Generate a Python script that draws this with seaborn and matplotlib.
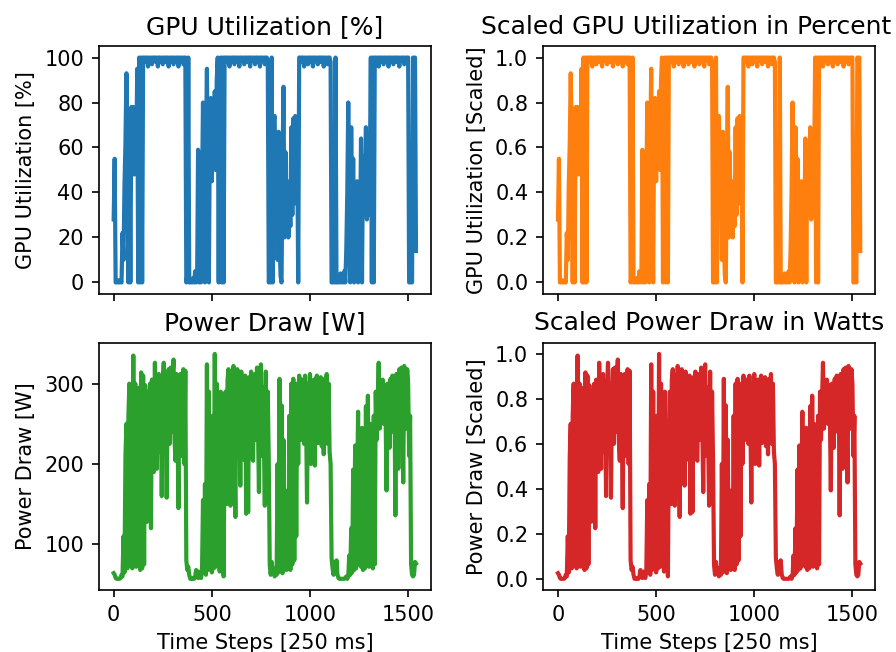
import numpy as np
import pandas as pd
import matplotlib
matplotlib.use("Agg")
import matplotlib.pyplot as plt
import seaborn as sns

gpu_util = [
    28, 55, 0, 0, 1, 0, 0, 1, 0, 22,
    10, 43, 62, 93, 65, 0, 70, 0, 78, 60,
    78, 48, 72, 55, 95, 0, 100, 0, 100, 0,
    100, 100, 98, 100, 100, 96, 100, 99, 100, 97,
    100, 100, 100, 98, 100, 96, 100, 100, 99, 100,
    97, 100, 100, 98, 100, 100, 96, 100, 99, 100,
    100, 97, 100, 98, 100, 100, 96, 100, 100, 99,
    100, 97, 100, 100, 0, 3, 100, 0, 0, 1,
    0, 2, 0, 5, 0, 1, 59, 0, 5, 0,
    40, 80, 20, 0, 60, 95, 35, 0, 70, 82,
    45, 75, 55, 85, 50, 90, 100, 0, 97, 100,
    0, 100, 0, 100, 100, 98, 100, 100, 96, 100,
    99, 100, 100, 97, 100, 100, 98, 100, 96, 100,
    100, 99, 100, 97, 100, 100, 98, 100, 100, 96,
    100, 100, 99, 100, 97, 100, 100, 98, 100, 96,
    100, 100, 99, 100, 97, 100, 100, 98, 0, 2,
    0, 100, 0, 72, 74, 30, 66, 10, 67, 20,
    3, 0, 50, 87, 20, 58, 25, 45, 20, 40,
    25, 69, 30, 73, 35, 74, 45, 60, 0, 100,
    100, 98, 100, 100, 96, 100, 99, 100, 97, 100,
    100, 98, 100, 96, 100, 100, 99, 100, 97, 100,
    100, 98, 100, 100, 96, 100, 99, 100, 97, 100,
    100, 98, 0, 0, 2, 0, 100, 0, 0, 3,
    0, 4, 0, 2, 0, 5, 0, 15, 40, 80,
    30, 0, 69, 10, 55, 0, 31, 5, 45, 0,
    42, 20, 64, 0, 56, 30, 45, 69, 28, 58,
    30, 52, 100, 0, 100, 0, 100, 100, 98, 100,
    96, 100, 100, 99, 100, 97, 100, 100, 98, 100,
    96, 100, 100, 99, 100, 97, 100, 100, 98, 100,
    100, 96, 100, 99, 100, 100, 97, 100, 98, 100,
    100, 0, 0, 2, 0, 100, 98, 100, 14,
]

power_draw = [
    64, 62, 58, 57, 57, 57, 57, 58, 62, 60,
    110, 65, 210, 250, 70, 260, 300, 75, 295, 70,
    335, 80, 300, 72, 290, 75, 295, 68, 314, 70,
    310, 75, 298, 200, 128, 290, 210, 300, 120, 305,
    220, 190, 326, 230, 194, 300, 312, 215, 285, 160,
    295, 326, 220, 300, 158, 280, 318, 225, 320, 240,
    310, 330, 230, 204, 312, 250, 145, 300, 312, 210,
    295, 318, 200, 316, 80, 68, 72, 62, 57, 57,
    58, 57, 57, 60, 68, 64, 58, 66, 62, 58,
    66, 155, 70, 175, 62, 324, 68, 290, 75, 250,
    65, 260, 70, 337, 72, 300, 80, 280, 66, 290,
    70, 240, 60, 230, 290, 150, 305, 318, 220, 148,
    310, 260, 322, 215, 134, 300, 318, 210, 290, 173,
    315, 240, 300, 205, 310, 138, 295, 140, 308, 225,
    315, 208, 204, 300, 312, 230, 320, 250, 165, 305,
    324, 210, 296, 230, 148, 315, 152, 290, 205, 74,
    62, 78, 64, 70, 60, 66, 62, 200, 65, 306,
    70, 273, 64, 230, 72, 167, 68, 160, 70, 260,
    68, 300, 75, 306, 80, 280, 110, 300, 200, 310,
    290, 230, 305, 295, 225, 310, 260, 152, 300, 240,
    312, 200, 298, 228, 305, 198, 300, 310, 226, 295,
    240, 308, 222, 300, 212, 306, 250, 312, 225, 300,
    215, 200, 83, 70, 62, 78, 66, 80, 62, 58,
    57, 57, 57, 57, 57, 57, 58, 60, 57, 60,
    86, 62, 120, 65, 193, 68, 223, 70, 160, 265,
    75, 200, 72, 245, 68, 180, 70, 272, 85, 285,
    72, 250, 80, 215, 70, 260, 75, 290, 230, 280,
    326, 244, 300, 260, 305, 250, 298, 265, 167, 300,
    270, 220, 306, 255, 310, 240, 300, 136, 312, 260,
    194, 318, 250, 320, 260, 177, 322, 300, 244, 318,
    300, 210, 260, 75, 62, 60, 62, 78, 76,
]

sample_step = 5
titles = ["GPU Utilization [%]", "Scaled GPU Utilization in Percent",
          "Power Draw [W]", "Scaled Power Draw in Watts"]
ylabels = ["GPU Utilization [%]", "GPU Utilization [Scaled]",
           "Power Draw [W]", "Power Draw [Scaled]"]
xlabel = "Time Steps [250 ms]"
colors = ["tab:blue", "tab:orange", "tab:green", "tab:red"]
xticks = [0, 500, 1000, 1500]
yticks = [[0, 20, 40, 60, 80, 100],
          [0.0, 0.2, 0.4, 0.6, 0.8, 1.0],
          [100, 200, 300],
          [0.0, 0.2, 0.4, 0.6, 0.8, 1.0]]

util = np.array(gpu_util, dtype=float)
power = np.array(power_draw, dtype=float)
t = np.arange(len(util)) * sample_step

df = pd.DataFrame({
    "t": t,
    "util": util,
    "util_scaled": (util - util.min()) / (util.max() - util.min()),
    "power": power,
    "power_scaled": (power - power.min()) / (power.max() - power.min()),
})
cols = ["util", "util_scaled", "power", "power_scaled"]

fig, axes = plt.subplots(2, 2, figsize=(896 / 150, 652 / 150), dpi=150, sharex=True)
fig.subplots_adjust(left=0.110, right=0.977, top=0.929, bottom=0.095,
                    wspace=0.336, hspace=0.198)
title_x = [0.5, 0.43, 0.5, 0.5]
for ax, col, title, yl, c, yt, tx in zip(axes.flat, cols, titles, ylabels,
                                         colors, yticks, title_x):
    sns.lineplot(data=df, x="t", y=col, ax=ax, color=c, linewidth=2.0)
    ax.set_title(title, x=tx)
    ax.set_ylabel(yl)
    ax.set_xlabel("")
    ax.set_yticks(yt)
    if isinstance(yt[0], float):
        ax.set_yticklabels([f"{v:.1f}" for v in yt])
for ax in axes[1]:
    ax.set_xlabel(xlabel)
axes[0, 0].set_xticks(xticks)
fig.savefig("out.png", dpi=150)
